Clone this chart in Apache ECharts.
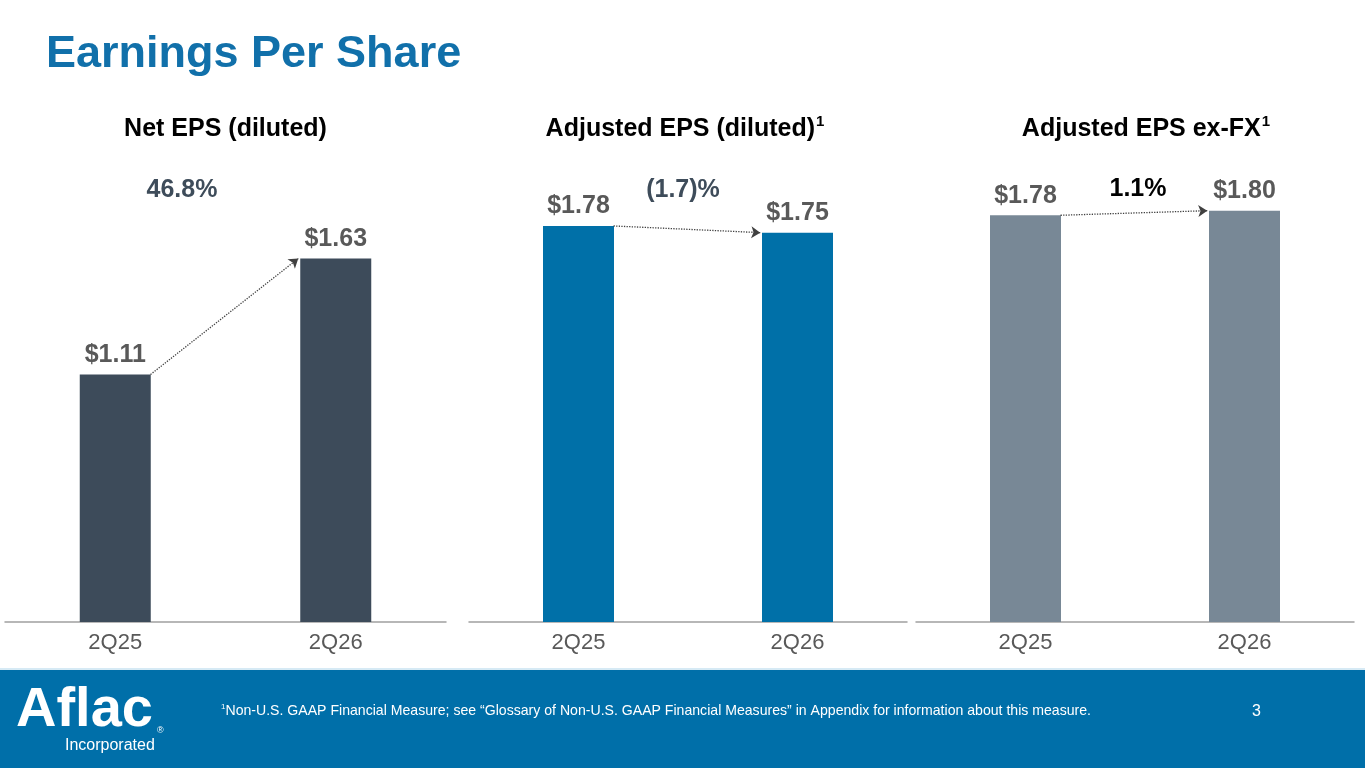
<!DOCTYPE html>
<html>
<head>
    <meta charset="UTF-8">
    <script src="https://cdn.jsdelivr.net/npm/echarts@6/dist/echarts.min.js"></script>
    <style>
        html, body { margin: 0; padding: 0; background: #fff; }
        #main { width: 1365px; height: 768px; }
    </style>
</head>
<body>
    <div id="main"></div>
    <script type="text/javascript">
        // values
        var categories = ['2Q25', '2Q26'];
        var netEps = [1.11, 1.63];
        var adjEps = [1.78, 1.75];
        var adjEpsExFx = [1.78, 1.80];
        var panelTitles = ['Net EPS (diluted)', 'Adjusted EPS (diluted)', 'Adjusted EPS ex-FX'];
        var panelSup = ['', '1', '1'];
        var changeLabels = ['46.8%', '(1.7)%', '1.1%'];

        var panels = [netEps, adjEps, adjEpsExFx];
        var barColors = ['#3d4b5a', '#0070a8', '#788896'];
        var changeColors = ['#3e4c5a', '#3e4c5a', '#000000'];
        var font = 'Liberation Sans, Arial, sans-serif';

        var grids = [
            {left: 5, top: 176, width: 441, height: 446},
            {left: 469, top: 177, width: 438, height: 445},
            {left: 916, top: 165, width: 438, height: 457}
        ];
        var titleCenters = [221, 680, 1141];
        var changePos = [[177, 188], [678, 188], [1133, 187]];

        var xAxes = [], yAxes = [], series = [], titles = [];

        panels.forEach(function (vals, i) {
            xAxes.push({
                type: 'category', gridIndex: i, data: categories,
                axisLine: {lineStyle: {color: '#a0a0a0', width: 1.5}},
                axisTick: {show: false},
                axisLabel: {color: '#595959', fontSize: 22, fontFamily: font, margin: 10}
            });
            yAxes.push({type: 'value', gridIndex: i, min: 0, max: 2, show: false});
            series.push({
                type: 'bar', xAxisIndex: i, yAxisIndex: i, data: vals,
                barWidth: 71,
                itemStyle: {color: barColors[i]},
                label: {
                    show: true, position: 'top', distance: 7,
                    color: '#595959', fontSize: 25, fontWeight: 'bold', fontFamily: font,
                    formatter: function (p) { return '$' + p.value.toFixed(2); }
                },
                silent: true
            });
            titles.push({
                text: '{t|' + panelTitles[i] + '}{s|' + panelSup[i] + '}',
                left: titleCenters[i], top: 109, textAlign: 'center',
                textStyle: {
                    rich: {
                        t: {fontSize: 25, fontWeight: 'bold', color: '#000', fontFamily: font, lineHeight: 30},
                        s: {fontSize: 15, fontWeight: 'bold', color: '#000', fontFamily: font, verticalAlign: 'top', lineHeight: 30, padding: [0, 0, 10, 1]}
                    }
                }
            });
            titles.push({
                text: changeLabels[i],
                left: changePos[i][0], top: changePos[i][1] - 15, textAlign: 'center',
                textStyle: {fontSize: 25, fontWeight: 'bold', color: changeColors[i], fontFamily: font}
            });
        });

        // hidden value x axes so the dotted arrows can start/end at bar edges
        panels.forEach(function (vals, i) {
            xAxes.push({type: 'value', gridIndex: i, min: -0.5, max: 1.5, show: false});
            series.push({
                type: 'line', xAxisIndex: 3 + i, yAxisIndex: i, data: [],
                silent: true,
                markLine: {
                    silent: true,
                    symbol: ['none', 'arrow'], symbolSize: 9,
                    label: {show: false},
                    lineStyle: {type: 'dotted', color: '#404040', width: 1.3},
                    data: [[{coord: [0.16, vals[0]]}, {coord: [0.83, vals[1]]}]]
                }
            });
        });

        titles.unshift({
            text: 'Earnings Per Share', left: 41, top: 27,
            textStyle: {fontSize: 45, fontWeight: 'bold', color: '#1170aa', fontFamily: font}
        });

        var myChart = echarts.init(document.getElementById('main'));
        var option = {
            animation: false,
            title: titles,
            grid: grids,
            xAxis: xAxes,
            yAxis: yAxes,
            series: series,
            graphic: [
                {type: 'rect', left: 0, top: 668, shape: {width: 1365, height: 2}, style: {fill: '#d6eaf5'}},
                {type: 'rect', left: 0, top: 670, shape: {width: 1365, height: 98}, style: {fill: '#006fa9'}},
                {type: 'text', left: 16, top: 683, style: {text: 'Aflac', fill: '#fff', font: 'bold 56px ' + font}},
                {type: 'text', left: 157, top: 726, style: {text: '®', fill: '#fff', font: '9px ' + font}},
                {type: 'text', left: 65, top: 738, style: {text: 'Incorporated', fill: '#fff', font: '16px ' + font}},
                {type: 'text', left: 221, top: 703, style: {
                    text: '{s|1}{t|Non-U.S. GAAP Financial Measure; see \u201cGlossary of Non-U.S. GAAP Financial Measures\u201d in Appendix for information about this measure.}',
                    rich: {
                        s: {fill: '#fff', fontSize: 8, fontFamily: font, verticalAlign: 'top', lineHeight: 17},
                        t: {fill: '#fff', fontSize: 14.1, fontFamily: font, lineHeight: 17}
                    }
                }},
                {type: 'text', left: 1252, top: 704, style: {text: '3', fill: '#fff', font: '16px ' + font}}
            ]
        };
        myChart.setOption(option);
    </script>
</body>
</html>
